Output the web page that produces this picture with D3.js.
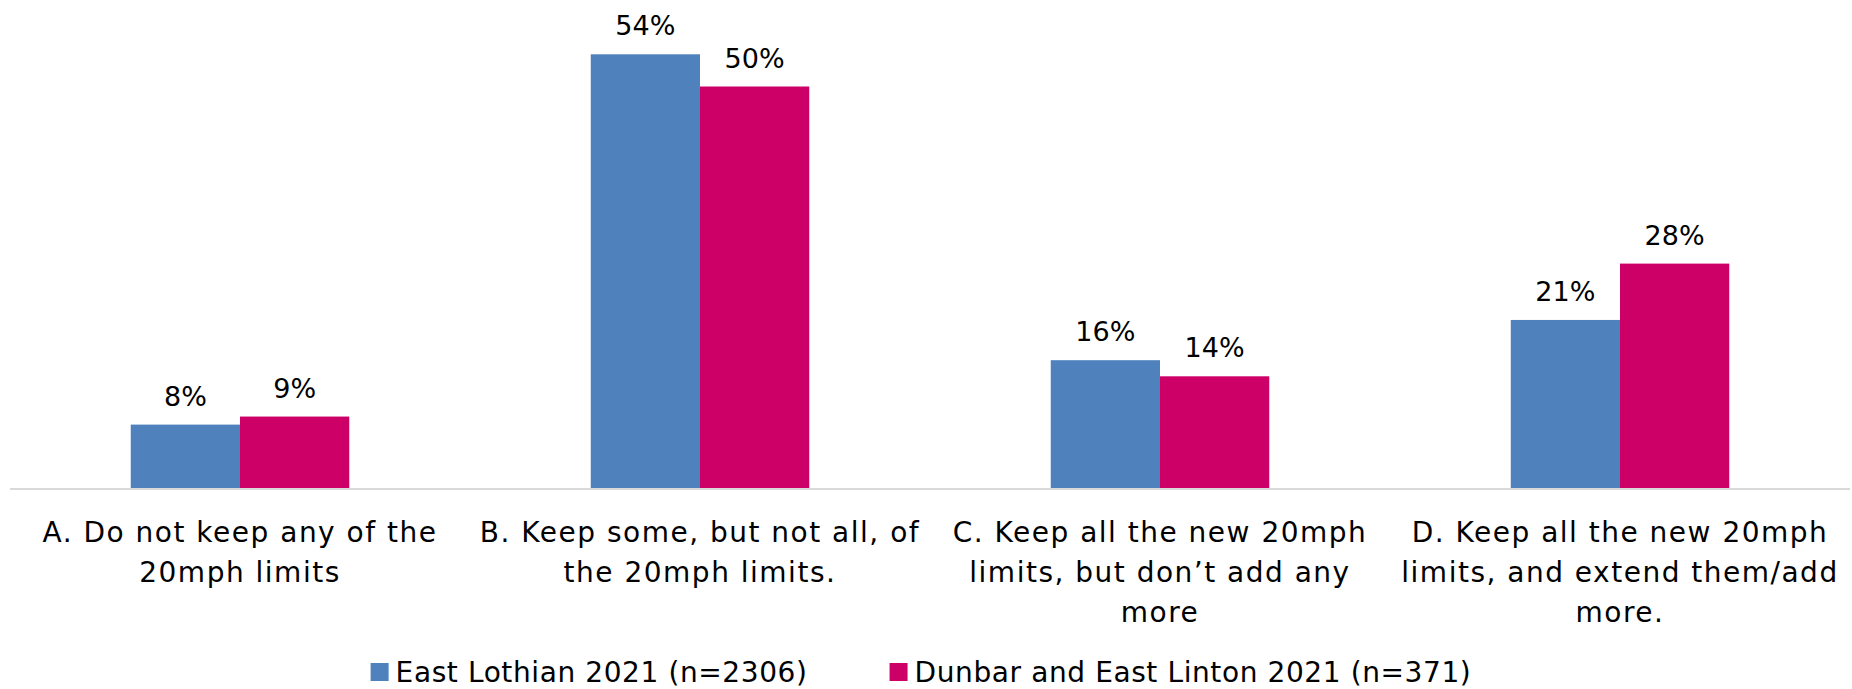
<!DOCTYPE html>
<html>
<head>
<meta charset="utf-8">
<script src="https://cdn.jsdelivr.net/npm/d3@7"></script>
<style>
  html, body { margin: 0; padding: 0; background: #fff; }
  svg { display: block; }
  text { font-family: "DejaVu Sans", sans-serif; fill: #000; }
</style>
</head>
<body>
<svg id="chart" width="1852" height="689"></svg>
<script>
// ---- data ----
const categories = ["A", "B", "C", "D"];
const categoryLabels = [
  ["A. Do not keep any of the", "20mph limits"],
  ["B. Keep some, but not all, of", "the 20mph limits."],
  ["C. Keep all the new 20mph", "limits, but don\u2019t add any", "more"],
  ["D. Keep all the new 20mph", "limits, and extend them/add", "more."]
];
const seriesNames = ["East Lothian 2021 (n=2306)", "Dunbar and East Linton 2021 (n=371)"];
const eastLothian = [8, 54, 16, 21];
const dunbarEastLinton = [9, 50, 14, 28];
const seriesValues = [eastLothian, dunbarEastLinton];
const seriesColors = ["#4F81BD", "#CC0066"];

// ---- layout ----
const svg = d3.select("#chart");
const plot = { left: 10, right: 1850, top: 6, bottom: 489 };

const x = d3.scaleBand().domain(categories).range([plot.left, plot.right]).paddingInner(0).paddingOuter(0);
const bw = x.bandwidth();
const xSub = d3.scaleBand().domain(d3.range(seriesNames.length)).range([bw * 0.2625, bw * 0.7375]).padding(0);
const y = d3.scaleLinear().domain([0, 60]).range([plot.bottom, plot.top]);

// bars
const groups = svg.append("g").selectAll("g")
  .data(categories)
  .join("g")
  .attr("transform", d => `translate(${x(d)},0)`);

seriesValues.forEach((vals, si) => {
  groups.append("rect")
    .attr("x", xSub(si))
    .attr("width", xSub.bandwidth())
    .attr("y", (d, i) => y(vals[i]))
    .attr("height", (d, i) => y(0) - y(vals[i]))
    .attr("fill", seriesColors[si]);
  groups.append("text")
    .attr("x", xSub(si) + xSub.bandwidth() / 2)
    .attr("y", (d, i) => y(vals[i]) - 19)
    .attr("text-anchor", "middle")
    .style("font-size", "27px")
    .text((d, i) => vals[i] + "%");
});

// axis
const xAxis = d3.axisBottom(x).tickSize(0).tickFormat("");
const axisG = svg.append("g").attr("transform", `translate(0,${plot.bottom})`).call(xAxis);
axisG.select(".domain").attr("stroke", "#D9D9D9").attr("stroke-width", 2).attr("d", `M${plot.left},0H${plot.right}`);

// category labels
const labelG = svg.append("g");
categories.forEach((c, ci) => {
  const t = labelG.append("text")
    .attr("x", x(c) + bw / 2)
    .attr("y", plot.bottom + 53)
    .attr("text-anchor", "middle")
    .style("font-size", "28px")
    .style("letter-spacing", "1.5px");
  categoryLabels[ci].forEach((line, li) => {
    t.append("tspan")
      .attr("x", x(c) + bw / 2)
      .attr("dy", li === 0 ? 0 : 40)
      .text(line);
  });
});

// legend
const legend = svg.append("g");
let cursor = 0;
const sq = 18;
seriesNames.forEach((name, si) => {
  const item = legend.append("g").attr("transform", `translate(${cursor},0)`);
  item.append("rect").attr("x", 0).attr("y", -19).attr("width", sq).attr("height", sq).attr("fill", seriesColors[si]);
  const tx = item.append("text").attr("x", sq + 7).attr("y", 0)
    .style("font-size", "28px").style("letter-spacing", "0.6px").text(name);
  cursor += sq + 7 + tx.node().getComputedTextLength() + 82;
});
const legendWidth = cursor - 82;
legend.attr("transform", `translate(${921 - legendWidth / 2},682)`);
</script>
</body>
</html>
